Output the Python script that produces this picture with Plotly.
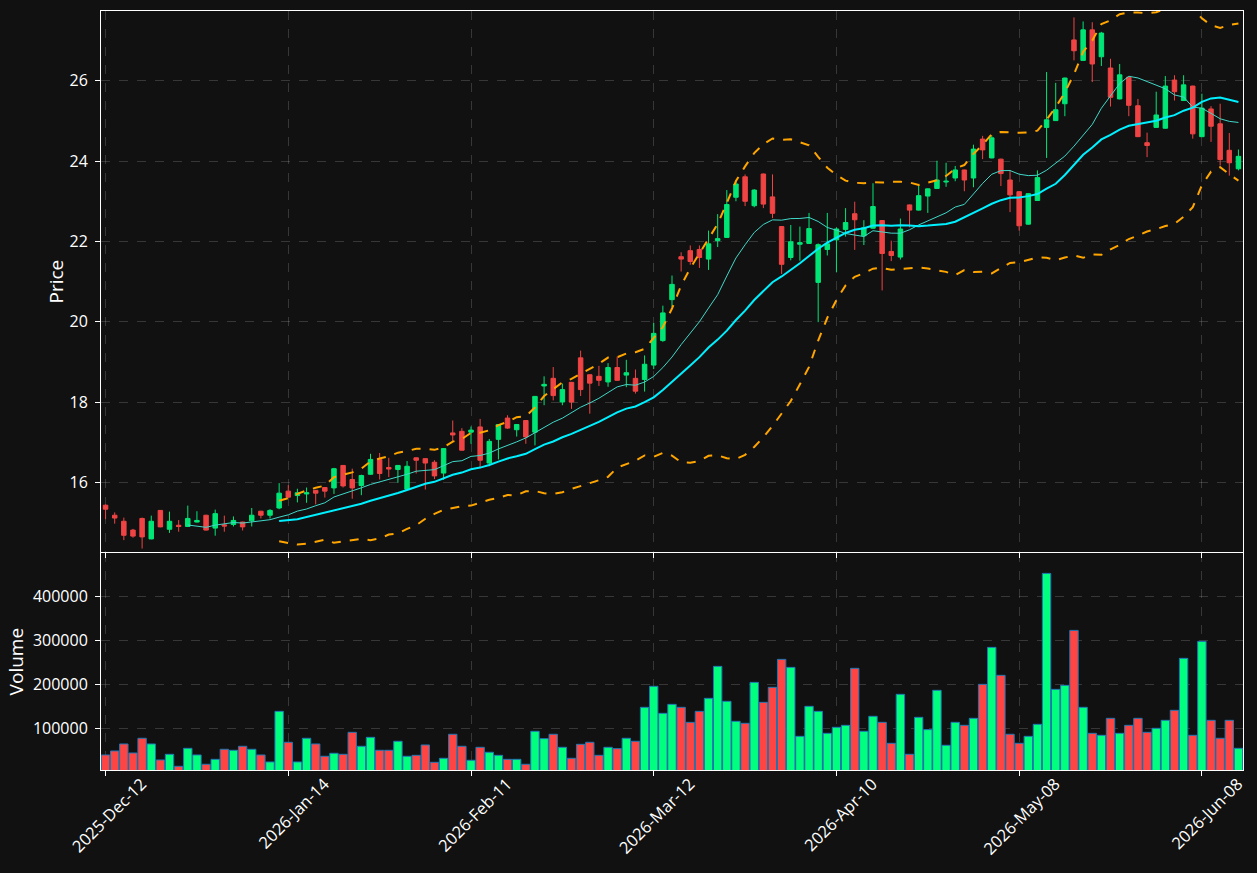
import pandas as pd
import numpy as np
import plotly.graph_objects as go

# ---- data -------------------------------------------------------------
holidays = ["2025-12-25", "2025-12-26", "2026-01-01", "2026-02-16", "2026-04-03", "2026-05-25"]
_days = [d for d in pd.bdate_range("2025-12-12", periods=140) if d.strftime("%Y-%m-%d") not in holidays][:125]
dates = [d.strftime("%Y-%b-%d") for d in _days]

opens = [15.43, 15.18, 15.03, 14.81, 15.10, 14.59, 15.30, 14.83, 14.93, 14.90,
         15.01, 15.18, 14.86, 14.94, 14.95, 15.01, 15.04, 15.28, 15.18, 15.36,
         15.78, 15.67, 15.71, 15.80, 15.87, 15.86, 16.42, 16.07, 15.92, 16.20,
         16.57, 16.37, 16.32, 15.83, 16.61, 16.59, 16.50, 16.23, 17.23, 17.27,
         17.25, 17.38, 16.48, 17.07, 17.60, 17.31, 17.54, 17.25, 18.40, 18.59,
         18.00, 18.49, 19.10, 18.68, 18.64, 18.50, 18.86, 18.67, 18.59, 18.56,
         18.92, 19.53, 20.55, 21.62, 21.77, 21.80, 21.56, 22.02, 22.10, 23.10,
         23.61, 22.89, 23.68, 23.11, 22.37, 21.60, 21.93, 21.95, 20.98, 21.80,
         22.04, 22.30, 22.69, 22.14, 22.33, 22.52, 21.75, 21.61, 22.91, 22.78,
         23.13, 23.32, 23.48, 23.58, 23.78, 23.58, 24.55, 24.08, 24.05, 23.53,
         23.24, 22.43, 23.02, 24.84, 25.01, 25.43, 27.02, 26.51, 27.27, 26.60,
         26.32, 25.55, 26.09, 25.38, 24.46, 24.84, 24.82, 26.02, 25.51, 25.87,
         24.61, 25.30, 24.93, 24.27, 23.81]
highs = [15.45, 15.25, 15.12, 14.84, 15.12, 15.17, 15.31, 15.27, 15.06, 15.42,
         15.28, 15.19, 15.32, 15.17, 15.15, 15.02, 15.36, 15.29, 15.33, 15.98,
         15.93, 15.84, 15.87, 15.81, 15.88, 16.36, 16.43, 16.34, 16.19, 16.71,
         16.73, 16.61, 16.43, 16.53, 16.62, 16.60, 16.55, 16.85, 17.54, 17.35,
         17.39, 17.58, 17.08, 17.45, 17.67, 17.45, 17.55, 18.15, 18.64, 18.87,
         18.46, 18.50, 19.28, 18.69, 18.90, 18.97, 19.13, 19.05, 18.81, 19.16,
         19.97, 20.40, 21.15, 21.73, 21.90, 21.90, 22.27, 22.68, 23.28, 23.53,
         23.67, 23.30, 23.69, 23.67, 22.38, 22.41, 22.37, 22.71, 21.95, 22.71,
         22.35, 22.83, 22.99, 22.53, 23.45, 22.53, 22.02, 22.57, 22.92, 23.39,
         23.32, 24.01, 23.96, 23.88, 23.79, 24.41, 24.63, 24.64, 24.06, 23.78,
         23.25, 23.20, 23.77, 26.22, 25.95, 26.08, 27.58, 27.48, 27.46, 27.22,
         26.55, 26.42, 26.10, 25.55, 24.71, 25.73, 26.12, 26.14, 26.14, 25.88,
         25.68, 25.37, 25.43, 24.70, 24.29]
lows = [15.08, 14.97, 14.56, 14.62, 14.35, 14.58, 14.88, 14.74, 14.77, 14.89,
        15.00, 14.80, 14.67, 14.77, 14.90, 14.80, 14.90, 15.10, 15.10, 15.33,
        15.62, 15.50, 15.49, 15.45, 15.62, 15.71, 15.87, 15.59, 15.68, 16.19,
        16.07, 16.13, 15.99, 15.82, 16.22, 15.82, 16.08, 16.06, 17.02, 16.79,
        16.96, 16.35, 16.40, 16.57, 17.33, 17.14, 16.96, 16.92, 17.92, 18.04,
        17.92, 17.83, 18.15, 17.71, 18.40, 18.38, 18.53, 18.37, 18.21, 18.26,
        18.82, 19.50, 20.36, 21.25, 21.42, 21.34, 21.29, 21.86, 22.09, 23.00,
        22.88, 22.85, 22.83, 22.58, 21.19, 21.53, 21.52, 21.94, 19.99, 21.65,
        21.23, 22.12, 21.79, 21.91, 22.32, 20.78, 21.51, 21.55, 22.35, 22.77,
        22.71, 23.31, 23.36, 23.50, 23.25, 23.35, 24.05, 24.07, 23.38, 22.73,
        22.27, 22.42, 23.01, 24.08, 25.00, 25.12, 26.51, 26.50, 25.97, 26.37,
        25.36, 25.54, 25.12, 24.60, 24.10, 24.83, 24.81, 25.51, 25.50, 24.56,
        24.60, 24.48, 23.89, 23.64, 23.77]
closes = [15.33, 15.11, 14.68, 14.66, 14.64, 15.03, 14.89, 15.03, 14.90, 15.10,
          15.05, 14.81, 15.22, 14.91, 15.05, 14.89, 15.18, 15.18, 15.30, 15.73,
          15.63, 15.74, 15.74, 15.73, 15.78, 16.34, 15.91, 15.86, 16.17, 16.57,
          16.22, 16.33, 16.42, 16.40, 16.55, 16.48, 16.16, 16.84, 17.18, 16.80,
          17.30, 16.55, 17.02, 17.44, 17.35, 17.44, 17.13, 18.14, 18.44, 18.16,
          18.31, 18.00, 18.31, 18.47, 18.54, 18.86, 18.54, 18.73, 18.27, 18.94,
          19.71, 20.22, 20.93, 21.56, 21.50, 21.60, 21.94, 22.07, 22.92, 23.43,
          23.00, 23.28, 22.93, 22.70, 21.43, 21.99, 21.97, 22.32, 21.92, 21.94,
          22.31, 22.47, 22.54, 22.34, 22.87, 21.70, 21.65, 22.31, 22.78, 23.14,
          23.31, 23.53, 23.50, 23.78, 23.53, 24.30, 24.28, 24.58, 23.69, 23.16,
          22.39, 23.19, 23.59, 25.03, 25.28, 26.07, 26.75, 27.27, 26.42, 27.19,
          25.59, 26.15, 25.39, 24.61, 24.39, 25.15, 25.87, 25.73, 25.90, 24.68,
          25.32, 24.87, 24.04, 23.96, 24.12]
volumes = [39400, 48500, 64400, 43900, 77300, 64400, 28000, 40900, 13600, 54500,
           39400, 18200, 29500, 52300, 50000, 59100, 52300, 39400, 23500, 138600,
           68200, 23500, 77300, 64400, 36400, 43200, 40900, 90900, 59100, 79500,
           50000, 50000, 70500, 36400, 38600, 62100, 22700, 31800, 86400, 59100,
           27300, 56800, 45500, 38600, 29500, 29500, 18200, 93200, 76500, 86400,
           56800, 31800, 63600, 68200, 38600, 56800, 53800, 77300, 70500, 147700,
           195500, 134100, 154500, 147700, 113600, 138600, 168200, 240900, 161400, 115900,
           111400, 204500, 159100, 193200, 256800, 238600, 81800, 150000, 138600, 88600,
           102300, 106800, 236400, 93200, 127300, 113600, 65900, 177300, 40900, 125000,
           97000, 186400, 61400, 113600, 106800, 122700, 200000, 284100, 220500, 86400,
           65900, 81800, 109100, 452300, 188600, 197700, 322700, 147700, 88600, 84100,
           122700, 88600, 106800, 122700, 90900, 100000, 118200, 140900, 259100, 84100,
           297700, 118200, 77300, 118200, 54500]
tick_labels = dates[::20]

# ---- indicators ----------------------------------------------------------
close_s = pd.Series(closes)
sma10 = close_s.rolling(10).mean()
sma20 = close_s.rolling(20).mean()
std20 = close_s.rolling(20).std(ddof=0)
upper = sma20 + 2 * std20
lower = sma20 - 2 * std20

GREEN_C = "#00e676"
RED_C = "#f04444"
GREEN_V = "#00ff7f"
RED_V = "#ff4444"
vol_colors = [GREEN_V if c >= o else RED_V for o, c in zip(opens, closes)]

fig = go.Figure()
fig.add_trace(go.Candlestick(
    x=dates, open=opens, high=highs, low=lows, close=closes,
    increasing=dict(line=dict(color=GREEN_C, width=1), fillcolor=GREEN_C),
    decreasing=dict(line=dict(color=RED_C, width=1), fillcolor=RED_C),
    showlegend=False, xaxis="x", yaxis="y", name="Price"))
fig.add_trace(go.Scatter(x=dates, y=sma10, mode="lines", line=dict(color="#40d8c8", width=1),
                         showlegend=False, xaxis="x", yaxis="y", name="SMA10"))
fig.add_trace(go.Scatter(x=dates, y=sma20, mode="lines", line=dict(color="#00f0ff", width=2),
                         showlegend=False, xaxis="x", yaxis="y", name="SMA20"))
fig.add_trace(go.Scatter(x=dates, y=upper, mode="lines", line=dict(color="#ffa500", width=2, dash="dash"),
                         showlegend=False, xaxis="x", yaxis="y", name="BB upper"))
fig.add_trace(go.Scatter(x=dates, y=lower, mode="lines", line=dict(color="#ffa500", width=2, dash="dash"),
                         showlegend=False, xaxis="x", yaxis="y", name="BB lower"))
fig.add_trace(go.Bar(x=dates, y=volumes, marker=dict(color=vol_colors, line=dict(color="#1f77b4", width=1)),
                     showlegend=False, xaxis="x2", yaxis="y2", name="Volume"))

grid = "rgba(255,255,255,0.16)"
axis_common = dict(showline=True, linecolor="white", linewidth=1, mirror=True,
                   ticks="outside", tickcolor="white", ticklen=5,
                   showgrid=True, gridcolor=grid, griddash="dash", zeroline=False)

fig.update_layout(
    width=1257, height=873,
    paper_bgcolor="#111111", plot_bgcolor="#111111",
    font=dict(color="white", size=16),
    margin=dict(l=101, r=11, t=10, b=103),
    bargap=0.08,
    showlegend=False,
    xaxis=dict(type="category", domain=[0, 1], anchor="y", range=[-0.5, 124.5],
               rangeslider=dict(visible=False), showticklabels=False,
               tickvals=tick_labels, **axis_common),
    yaxis=dict(domain=[0.287, 1], anchor="x", range=[14.26, 27.74], dtick=2,
               ticklabelstandoff=4,
               title=dict(text="Price", standoff=0), **axis_common),
    xaxis2=dict(type="category", domain=[0, 1], anchor="y2", matches="x", range=[-0.5, 124.5],
                tickvals=tick_labels, ticktext=tick_labels, tickangle=-45,
                tickfont=dict(size=16.5),
                ticklabelshift=36, ticklabelstandoff=-8, **axis_common),
    yaxis2=dict(domain=[0, 0.2855], anchor="x2", range=[5200, 498000],
                tickvals=[100000, 200000, 300000, 400000], tickformat="d",
                ticklabelstandoff=4,
                title=dict(text="Volume", standoff=4), **axis_common),
)

fig.write_html("out.html")
